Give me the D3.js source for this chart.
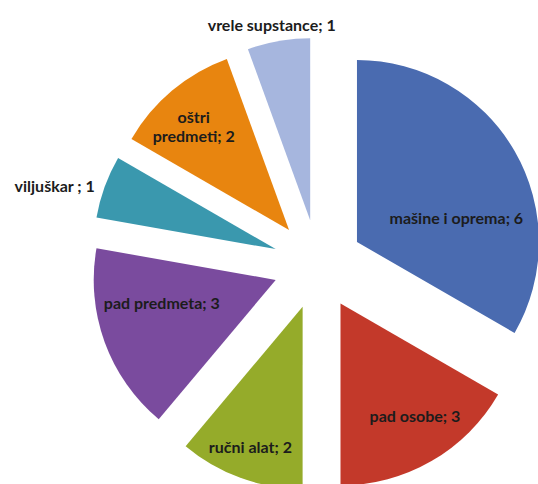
<!DOCTYPE html>
<html>
<head>
<meta charset="utf-8">
<script src="https://cdn.jsdelivr.net/npm/d3@7"></script>
<style>
  html, body { margin: 0; padding: 0; background: #ffffff; }
  svg { display: block; }
  text { font-family: Lato, "Liberation Sans", sans-serif; font-weight: bold; fill: #1c1c1c; }
</style>
</head>
<body>
<svg id="chart" width="538" height="484"></svg>
<script>
// ---- data ----
const categories = ["mašine i oprema", "pad osobe", "ručni alat", "pad predmeta", "viljuškar", "oštri predmeti", "vrele supstance"];
const values = [6, 3, 2, 3, 1, 2, 1];
const labelLines = [
  ["mašine i oprema; 6"],
  ["pad osobe; 3"],
  ["ručni alat; 2"],
  ["pad predmeta; 3"],
  ["viljuškar ; 1"],
  ["oštri", "predmeti; 2"],
  ["vrele supstance; 1"]
];
const colors = ["#4a6bb0", "#c3392a", "#95ab2a", "#7a4b9e", "#3a98ae", "#e8850f", "#a6b6de"];

// ---- layout ----
const width = 538, height = 484;
const cx = 318, cy = 264.5, radius = 182, explode = 45;
// label placement along slice bisector (p) and perpendicular (q), from slice apex
const labelLayout = [[98, 29], [135, -8], [150, 1], [115, 17], [229, -17], [140, -7], [199, -4]];

const svg = d3.select("#chart");
const g = svg.append("g").attr("transform", `translate(${cx},${cy})`);

const pie = d3.pie().sort(null).value(d => d.value);
const arcs = pie(categories.map((c, i) => ({ name: c, value: values[i], i })));
const arc = d3.arc().innerRadius(0).outerRadius(radius);

const slices = g.selectAll("g.slice").data(arcs).join("g")
  .attr("class", "slice")
  .attr("transform", d => {
    const a = (d.startAngle + d.endAngle) / 2;
    return `translate(${Math.sin(a) * explode},${-Math.cos(a) * explode})`;
  });

slices.append("path")
  .attr("d", arc)
  .attr("fill", d => colors[d.data.i]);

slices.each(function (d) {
  const a = (d.startAngle + d.endAngle) / 2;
  const [p, q] = labelLayout[d.data.i];
  const x = Math.sin(a) * p + Math.cos(a) * q;
  const y = -Math.cos(a) * p + Math.sin(a) * q;
  const lines = labelLines[d.data.i];
  const lh = 19;
  const t = d3.select(this).append("text")
    .attr("text-anchor", "middle")
    .attr("font-size", 16)
    .attr("x", x)
    .attr("y", y - (lines.length - 1) * lh / 2);
  lines.forEach((ln, k) => {
    t.append("tspan").attr("x", x).attr("dy", k === 0 ? "0.35em" : lh).text(ln);
  });
});
</script>
</body>
</html>
